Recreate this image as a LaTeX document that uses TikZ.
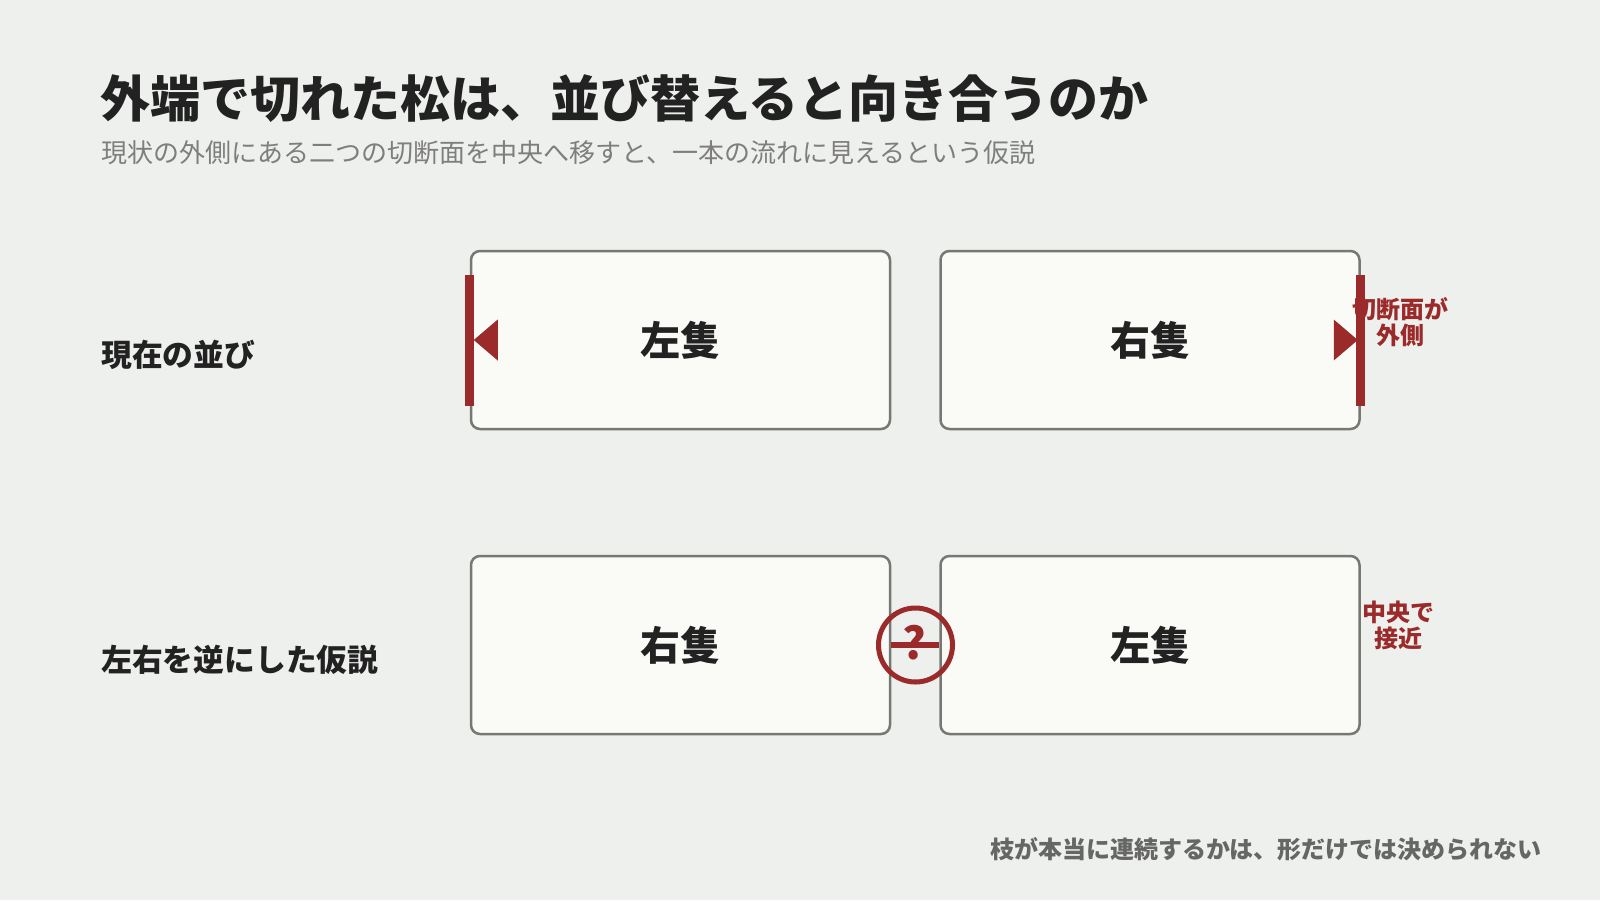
\documentclass[tikz,border=0pt]{standalone}
\usepackage{fontspec}
\setmainfont{Noto Sans CJK JP}
\definecolor{bg}{HTML}{EEF0ED}
\definecolor{boxfill}{HTML}{FAFAF7}
\definecolor{boxline}{HTML}{767874}
\definecolor{cutred}{HTML}{9B2B2B}
\definecolor{ink}{HTML}{222222}
\definecolor{subgray}{HTML}{7E7E7E}
\definecolor{footgray}{HTML}{666666}
\tikzset{
  panel/.style={draw=boxline, line width=2.5pt, fill=boxfill, rounded corners=9pt,
    minimum width=419pt, minimum height=178pt, inner sep=0pt,
    font=\fontsize{40}{42}\selectfont\bfseries, text=ink},
  rowlabel/.style={anchor=west, inner sep=0pt, font=\fontsize{30.8}{33}\selectfont\bfseries, text=ink},
  note/.style={align=center, inner sep=0pt, font=\fontsize{24}{26}\selectfont\bfseries, text=cutred},
  cutbar/.style={fill=cutred},
}
\begin{document}
\begin{tikzpicture}[x=1pt,y=-1pt]
\useasboundingbox (0,0) rectangle (1600,900);
\fill[bg] (0,0) rectangle (1600,900);

\node[anchor=west, inner sep=0pt, font=\fontsize{50}{52}\selectfont\bfseries, text=ink] (title) at (100,99) {外端で切れた松は、並び替えると向き合うのか};
\node[anchor=west, inner sep=0pt, font=\fontsize{26}{28}\selectfont, text=subgray] (subtitle) at (101,153) {現状の外側にある二つの切断面を中央へ移すと、一本の流れに見えるという仮説};

\node[rowlabel] (row1) at (101,355) {現在の並び};
\node[rowlabel] (row2) at (101,660) {左右を逆にした仮説};

\node[panel] (L1) at (680.5,340) {左隻};
\node[panel] (R1) at (1150,340) {右隻};
\node[panel] (L2) at (680.5,645) {右隻};
\node[panel] (R2) at (1150,645) {左隻};

% cut faces, current order
\fill[cutbar] ([xshift=-4.5pt,yshift=65.5pt]L1.west) rectangle ([xshift=4.5pt,yshift=-65.5pt]L1.west);
\fill[cutbar] ([xshift=4pt]L1.west) -- ([xshift=28pt,yshift=20.5pt]L1.west) -- ([xshift=28pt,yshift=-20.5pt]L1.west) -- cycle;
\fill[cutbar] ([xshift=-4.5pt,yshift=65.5pt]R1.east) rectangle ([xshift=4.5pt,yshift=-65.5pt]R1.east);
\fill[cutbar] ([xshift=-3pt]R1.east) -- ([xshift=-27pt,yshift=20.5pt]R1.east) -- ([xshift=-27pt,yshift=-20.5pt]R1.east) -- cycle;
\node[note] (n1) at (1400,322) {切断面が\\外側};

% hypothesis: meeting in the middle
\node[inner sep=0pt, font=\fontsize{44}{46}\selectfont\bfseries, text=cutred] (q) at (914.5,643) {?};
\draw[cutred, line width=6.5pt] (L2.east) -- (R2.west);
\node[draw=cutred, line width=5pt, circle, minimum size=74pt, inner sep=0pt] (ring) at (915.5,645) {};
\node[note] (n2) at (1398,625) {中央で\\接近};

\node[anchor=east, inner sep=0pt, font=\fontsize{24}{26}\selectfont\bfseries, text=footgray] (foot) at (1542,849) {枝が本当に連続するかは、形だけでは決められない};
\end{tikzpicture}
\end{document}
